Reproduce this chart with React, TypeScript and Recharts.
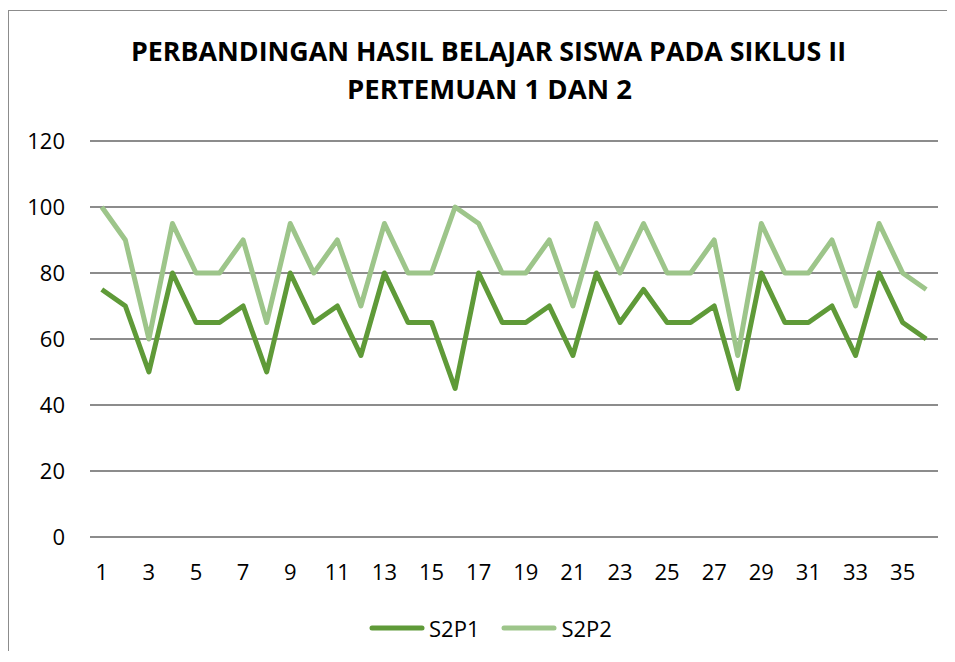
import React from "react";
import { LineChart, Line, XAxis, YAxis, CartesianGrid } from "recharts";

const titleLines = ["PERBANDINGAN HASIL BELAJAR SISWA PADA SIKLUS II", "PERTEMUAN 1 DAN 2"];
const categories = [
  1, 2, 3, 4, 5, 6, 7, 8, 9, 10, 11, 12, 13, 14, 15, 16, 17, 18,
  19, 20, 21, 22, 23, 24, 25, 26, 27, 28, 29, 30, 31, 32, 33, 34, 35, 36,
];
const s2p1 = [
  75, 70, 50, 80, 65, 65, 70, 50, 80, 65, 70, 55, 80, 65, 65, 45, 80, 65,
  65, 70, 55, 80, 65, 75, 65, 65, 70, 45, 80, 65, 65, 70, 55, 80, 65, 60,
];
const s2p2 = [
  100, 90, 60, 95, 80, 80, 90, 65, 95, 80, 90, 70, 95, 80, 80, 100, 95, 80,
  80, 90, 70, 95, 80, 95, 80, 80, 90, 55, 95, 80, 80, 90, 70, 95, 80, 75,
];
const yTicks = [0, 20, 40, 60, 80, 100, 120];
const seriesNames = ["S2P1", "S2P2"];
const seriesColors = ["#5f9a38", "#9dc58a"];

const data = categories.map((c, i) => ({ n: c, S2P1: s2p1[i], S2P2: s2p2[i] }));

const FONT = "'Open Sans', 'Noto Sans', sans-serif";

export default function App() {
  return (
    <div
      style={{
        position: "relative",
        marginTop: 2,
        width: 946,
        height: 640,
        borderTop: "1px solid #8c8c8c",
        borderLeft: "1px solid #8c8c8c",
        fontFamily: FONT,
      }}
    >
      <LineChart
        width={946}
        height={640}
        data={data}
        margin={{ top: 130, right: 17, bottom: 84, left: 0 }}
      >
        <CartesianGrid vertical={false} stroke="#8c8c8c" strokeWidth={2} />
        <XAxis
          dataKey="n"
          interval={1}
          padding={{ left: 11.8, right: 11.8 }}
          axisLine={false}
          tickLine={false}
          tickMargin={21}
          tick={{ fill: "#000", fontSize: 22, fontFamily: FONT }}
        />
        <YAxis
          width={81}
          domain={[0, 120]}
          ticks={yTicks}
          axisLine={false}
          tickLine={false}
          tickMargin={19}
          tick={{ fill: "#000", fontSize: 22, fontFamily: FONT }}
        />
        <Line
          type="linear"
          dataKey="S2P1"
          stroke={seriesColors[0]}
          strokeWidth={5}
          strokeLinejoin="round"
          dot={false}
          isAnimationActive={false}
        />
        <Line
          type="linear"
          dataKey="S2P2"
          stroke={seriesColors[1]}
          strokeWidth={5}
          strokeLinejoin="round"
          dot={false}
          isAnimationActive={false}
        />
      </LineChart>
      <svg
        width={946}
        height={120}
        style={{ position: "absolute", left: 0, top: 0, pointerEvents: "none" }}
      >
        <text
          x={479.5}
          y={50}
          textAnchor="middle"
          fontFamily={FONT}
          fontWeight={700}
          fontSize={26}
          textLength={715}
          lengthAdjust="spacingAndGlyphs"
          fill="#000"
        >
          {titleLines[0]}
        </text>
        <text
          x={480.5}
          y={88}
          textAnchor="middle"
          fontFamily={FONT}
          fontWeight={700}
          fontSize={26}
          textLength={285}
          lengthAdjust="spacingAndGlyphs"
          fill="#000"
        >
          {titleLines[1]}
        </text>
      </svg>
      <div
        style={{
          position: "absolute",
          left: 360,
          top: 602,
          height: 30,
          display: "flex",
          alignItems: "center",
          fontSize: 22,
          color: "#000",
        }}
      >
        {seriesNames.map((name, i) => (
          <div key={name} style={{ display: "flex", alignItems: "center", marginRight: 22 }}>
            <svg width={56} height={10} style={{ marginRight: 4 }}>
              <line
                x1={3}
                y1={5}
                x2={53}
                y2={5}
                stroke={seriesColors[i]}
                strokeWidth={5}
                strokeLinecap="round"
              />
            </svg>
            <span style={{ lineHeight: "30px" }}>{name}</span>
          </div>
        ))}
      </div>
    </div>
  );
}
